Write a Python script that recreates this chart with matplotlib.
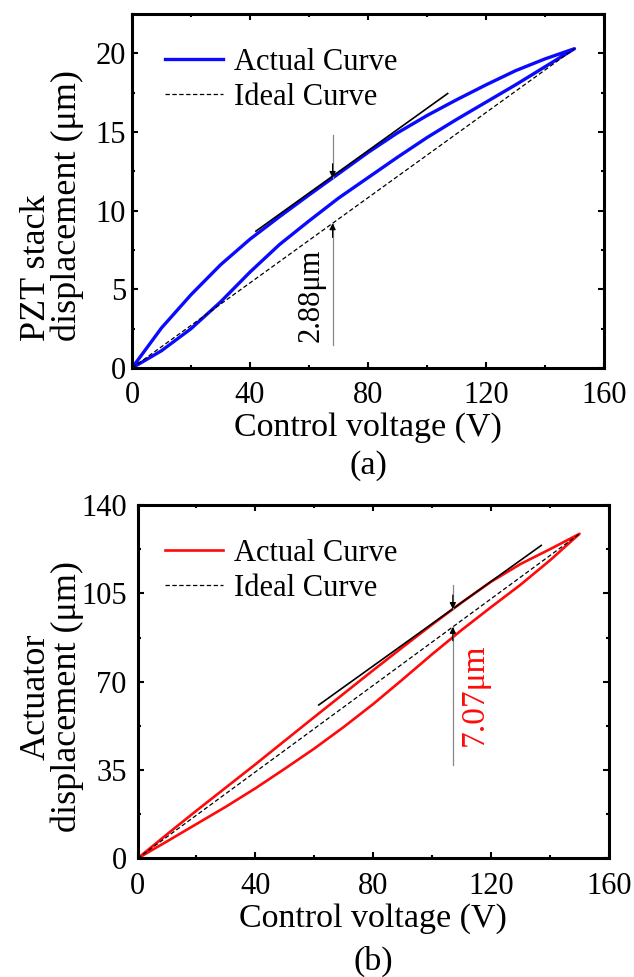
import matplotlib
matplotlib.use("Agg")
import matplotlib.pyplot as plt
from matplotlib.ticker import MultipleLocator

plt.rcParams['font.family'] = ['Liberation Serif', 'DejaVu Serif']

# ---- data -------------------------------------------------------------
voltage = [0, 10, 20, 30, 40, 50, 60, 70, 80, 90, 100, 110, 120, 130, 140, 150]

# (a) PZT stack: rising branch (lower) and falling branch (upper), um
pzt_rise = [0, 1.1, 2.5, 4.2, 6.1, 7.85, 9.35, 10.8, 12.1, 13.4,
            14.65, 15.8, 16.9, 18.0, 19.15, 20.3]
pzt_fall = [0, 2.55, 4.66, 6.56, 8.19, 9.62, 11.0, 12.35, 13.7, 14.95,
            16.05, 17.05, 18.0, 18.9, 19.65, 20.3]
pzt_ideal_v = [0, 150]
pzt_ideal_d = [0, 20.3]
pzt_tangent_v = [42, 107]
pzt_tangent_d = [8.7, 17.45]
pzt_gap_v = 68
pzt_gap = 2.88
pzt_gap_line = [1.45, 14.8]

# (b) actuator: rising branch (lower) and falling branch (upper), um
act_rise = [0, 6.77, 13.65, 20.52, 27.79, 35.57, 43.54, 52.11, 61.19, 70.96,
            80.93, 90.51, 99.58, 108.45, 118.12, 128.6]
act_fall = [0, 9.57, 18.95, 28.12, 37.29, 46.67, 56.04, 65.31, 74.59, 83.71,
            92.68, 101.38, 109.63, 116.65, 122.52, 128.6]
act_ideal_v = [0, 150]
act_ideal_d = [0, 128.6]
act_tangent_v = [61.5, 137]
act_tangent_d = [60.8, 124.0]
act_gap_v = 107
act_gap = 7.07
act_gap_line = [37.2, 108.3]

x_ticks = [0, 40, 80, 120, 160]

FS_TICK = 22
FS_LABEL = 24.5
FS_YLABEL = 26
FS_LEGEND = 22


def style_axes(ax, ymax, ymajor, yminor, ypad, xpad):
    ax.set_xlim(0, 160)
    ax.set_ylim(0, ymax)
    ax.set_xticks(x_ticks)
    ax.xaxis.set_minor_locator(MultipleLocator(20))
    ax.yaxis.set_major_locator(MultipleLocator(ymajor))
    ax.yaxis.set_minor_locator(MultipleLocator(yminor))
    ax.tick_params(which='both', direction='in', top=True, right=True,
                   width=1.5, labelsize=FS_TICK, colors='black')
    ax.tick_params(which='major', length=4)
    ax.tick_params(which='minor', length=2.5)
    ax.tick_params(axis='y', pad=ypad)
    ax.tick_params(axis='x', pad=xpad)
    for s in ax.spines.values():
        s.set_linewidth(2.2)


def loop(rise, fall):
    xs = list(voltage) + list(voltage[::-1])
    ys = list(rise) + list(fall[::-1])
    return xs, ys


def gap_marker(ax, v, lo_tip, hi_tip, line_range, head):
    # thin gray guide plus two small black arrowheads pointing at the curves
    ax.plot([v, v], [hi_tip, line_range[1]], color='#888888', lw=0.9, zorder=4)
    ax.plot([v, v], [line_range[0], lo_tip], color='#888888', lw=0.9, zorder=4)
    ax.annotate('', xy=(v, hi_tip), xytext=(v, hi_tip + head),
                arrowprops=dict(arrowstyle='-|>', color='black', lw=0.9,
                                mutation_scale=9, shrinkA=0, shrinkB=0),
                zorder=5)
    ax.annotate('', xy=(v, lo_tip), xytext=(v, lo_tip - head),
                arrowprops=dict(arrowstyle='-|>', color='black', lw=0.9,
                                mutation_scale=9, shrinkA=0, shrinkB=0),
                zorder=5)


def legend(ax, x0):
    ax.legend(loc='upper left', bbox_to_anchor=(x0, 0.905), frameon=False,
              fontsize=FS_LEGEND, handlelength=1.9, handletextpad=0.35,
              labelspacing=0.21, borderpad=0, borderaxespad=0)


fig = plt.figure(figsize=(6.34, 9.77), dpi=100)

# ---- (a) --------------------------------------------------------------
ax1 = fig.add_axes([0.2082, 0.6233, 0.7445, 0.3623])
xs, ys = loop(pzt_rise, pzt_fall)
ax1.plot(xs, ys, color='#0a0aff', lw=2.4, label='Actual Curve', zorder=2)
ax1.plot(pzt_ideal_v, pzt_ideal_d, color='black', lw=0.9,
         linestyle=(0, (3.5, 2)), label='Ideal Curve', zorder=3)
ax1.plot(pzt_tangent_v, pzt_tangent_d, color='black', lw=1.2, zorder=3)
slope_a = pzt_ideal_d[1] / pzt_ideal_v[1]
ideal_a = slope_a * pzt_gap_v
gap_marker(ax1, pzt_gap_v, ideal_a, ideal_a + pzt_gap, pzt_gap_line, 0.9)
ax1.text(60.8, 4.6, f'{pzt_gap:.2f}μm', rotation=90, ha='center', va='center',
         fontsize=FS_LEGEND, color='black')
style_axes(ax1, 22.5, 5, 2.5, 4.3, 9.5)
ax1.set_xlabel('Control voltage (V)', fontsize=FS_LABEL, labelpad=1.5)
ax1.set_ylabel('PZT stack\ndisplacement (μm)', fontsize=FS_YLABEL,
               linespacing=0.9, multialignment='left')
ax1.yaxis.set_label_coords(-0.102, 0.4605)
legend(ax1, 0.07)
fig.text(368 / 634, 1 - 466 / 977, '(a)', ha='center', va='center',
         fontsize=FS_LABEL)

# ---- (b) --------------------------------------------------------------
ax2 = fig.add_axes([0.2169, 0.1213, 0.7437, 0.3618])
xs, ys = loop(act_rise, act_fall)
ax2.plot(xs, ys, color='#ff0a0a', lw=1.9, label='Actual Curve', zorder=2)
ax2.plot(act_ideal_v, act_ideal_d, color='black', lw=0.9,
         linestyle=(0, (3.5, 2)), label='Ideal Curve', zorder=3)
ax2.plot(act_tangent_v, act_tangent_d, color='black', lw=1.2, zorder=3)
slope_b = act_ideal_d[1] / act_ideal_v[1]
ideal_b = slope_b * act_gap_v
gap_marker(ax2, act_gap_v, ideal_b, ideal_b + act_gap, act_gap_line, 5.5)
ax2.text(114.2, 64.8, f'{act_gap:.2f}μm', rotation=90, ha='center', va='center',
         fontsize=24, color='#ff0a0a')
style_axes(ax2, 140, 35, 17.5, 7.7, 9.5)
ax2.set_xlabel('Control voltage (V)', fontsize=FS_LABEL, labelpad=2)
ax2.set_ylabel('Actuator\ndisplacement (μm)', fontsize=FS_YLABEL,
               linespacing=0.9)
ax2.yaxis.set_label_coords(-0.114, 0.457)
legend(ax2, 0.058)
fig.text(373 / 634, 1 - 961 / 977, '(b)', ha='center', va='center',
         fontsize=FS_LABEL)

fig.savefig('out.png', dpi=100)
